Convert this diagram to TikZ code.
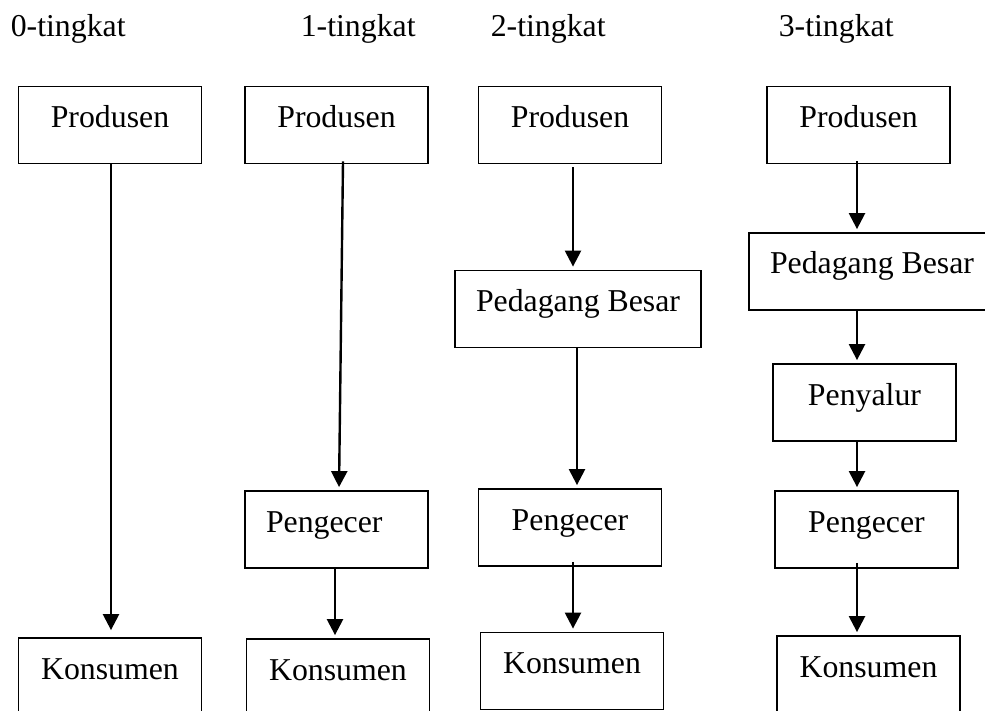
\documentclass[tikz,border=0pt]{standalone}
\usepackage{fontspec}
\setmainfont{Liberation Serif}
\usetikzlibrary{arrows.meta}

\tikzset{every picture/.style={line width=0.8pt}}
\tikzset{
  box/.style={draw, line width=0.9pt, inner xsep=0pt, inner ysep=0pt,
    minimum width=91.5pt, text height=20.5pt, text depth=18pt,
    font=\fontsize{15.9}{19}\selectfont},
  widebox/.style={box, minimum width=123pt},
  arr/.style={-{Triangle[length=8pt,width=8pt]}, line width=1.2pt, shorten >=1.5pt},
  title/.style={anchor=base west, inner sep=0pt, font=\fontsize{15.9}{19}\selectfont}
}

\begin{document}
\begin{tikzpicture}[x=0.5pt,y=0.5pt,yscale=-1]
\clip (0,0) rectangle (985,711);

% Text Node
\node [title] (t0) at (10,37) {0-tingkat};
% Text Node
\node [title] (t1) at (300,37) {1-tingkat};
% Text Node
\node [title] (t2) at (490,37) {2-tingkat};
% Text Node
\node [title] (t3) at (778,37) {3-tingkat};

%Flowchart: 0-tingkat
\node [box] (p0) at (110,125) {Produsen};
\node [box] (k0) at (110,676.5) {Konsumen};
%Flowchart: 1-tingkat
\node [box] (p1) at (336.5,125) {Produsen};
\node [box, text width=70.5pt, inner xsep=10.5pt, align=left] (e1) at (336.5,529.5) {Pengecer};
\node [box] (k1) at (338,677.5) {Konsumen};
%Flowchart: 2-tingkat
\node [box] (p2) at (570,125) {Produsen};
\node [widebox] (b2) at (578,309) {Pedagang Besar};
\node [box] (e2) at (570,527.5) {Pengecer};
\node [box] (k2) at (572,671) {Konsumen};
%Flowchart: 3-tingkat
\node [box] (p3) at (858.5,125) {Produsen};
\node [widebox] (b3) at (872,271.5) {Pedagang Besar};
\node [box] (y3) at (864.5,402.5) {Penyalur};
\node [box] (e3) at (866.5,529.5) {Pengecer};
\node [box] (k3) at (868.5,674.5) {Konsumen};

% line positions (yshift points down here, yscale=-1)
\coordinate (a0) at (111,0);
\coordinate (a1) at (335,0);
\coordinate (a2) at (573,0);
\coordinate (a2b) at (577,0);
\coordinate (a3) at (857,0);

%Straight Lines
\draw [arr, shorten >=3.5pt] (p0.south -| a0) -- (k0.north -| a0);
%Straight Lines
\draw [arr] ([xshift=3.25pt,yshift=-1.5pt]p1.south) -- ([xshift=1.25pt]e1.north);
\draw [arr] (e1.south -| a1) -- (k1.north -| a1);
%Straight Lines
\draw [arr] ([yshift=1.5pt]p2.south -| a2) -- (b2.north -| a2);
\draw [arr] (b2.south -| a2b) -- (e2.north -| a2b);
\draw [arr] ([yshift=-2.5pt]e2.south -| a2) -- (k2.north -| a2);
%Straight Lines
\draw [arr] ([yshift=-1.5pt]p3.south -| a3) -- (b3.north -| a3);
\draw [arr] (b3.south -| a3) -- (y3.north -| a3);
\draw [arr] (y3.south -| a3) -- (e3.north -| a3);
\draw [arr] ([yshift=-3pt]e3.south -| a3) -- (k3.north -| a3);

\end{tikzpicture}
\end{document}
